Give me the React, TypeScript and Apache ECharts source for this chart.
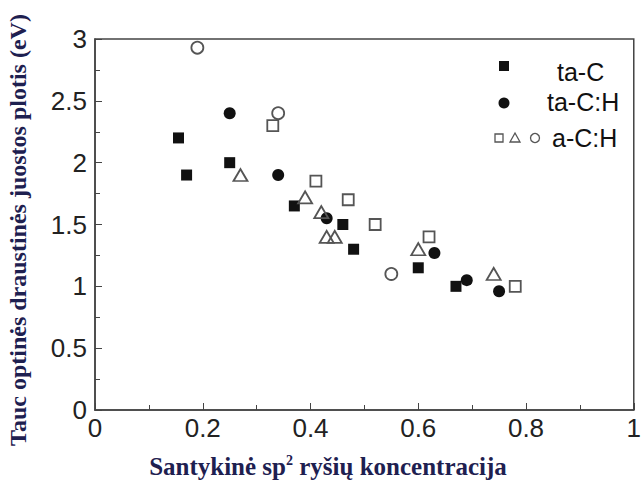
import React, { useEffect, useRef } from "react";
import * as echarts from "echarts";

// sp2 fraction vs. Tauc optical gap (eV)
const taC: [number, number][] = [
  [0.155, 2.2], [0.17, 1.9], [0.25, 2.0], [0.37, 1.65],
  [0.46, 1.5], [0.48, 1.3], [0.6, 1.15], [0.67, 1.0],
];
const taCH: [number, number][] = [
  [0.25, 2.4], [0.34, 1.9], [0.43, 1.55], [0.63, 1.27], [0.69, 1.05], [0.75, 0.96],
];
const aCHSquares: [number, number][] = [
  [0.33, 2.3], [0.41, 1.85], [0.47, 1.7], [0.52, 1.5], [0.62, 1.4], [0.78, 1.0],
];
const aCHTriangles: [number, number][] = [
  [0.27, 1.9], [0.39, 1.72], [0.42, 1.6], [0.43, 1.4], [0.445, 1.4], [0.6, 1.3], [0.74, 1.1],
];
const aCHCircles: [number, number][] = [
  [0.19, 2.93], [0.34, 2.4], [0.55, 1.1],
];

const legendLabels = ["ta-C", "ta-C:H", "a-C:H"];
const xTitle = ["Santykinė sp", "2", " ryšių koncentracija"];
const yTitle = "Tauc optinės draustinės juostos plotis (eV)";

const INK = "#111";
const OPEN = "#555";
const TITLE = "#1e2050";
const SANS = "Liberation Sans, Arial, sans-serif";
const SERIF = "Liberation Serif, Times New Roman, serif";

export default function App() {
  const ref = useRef<HTMLDivElement>(null);

  useEffect(() => {
    if (!ref.current) return;
    const chart = echarts.init(ref.current, undefined, { renderer: "svg" });

    const filled = (name: string, data: [number, number][], symbol: string, size: number) => ({
      name,
      type: "scatter",
      data,
      symbol,
      symbolSize: size,
      itemStyle: { color: INK, opacity: 1 },
    });
    const open = (name: string, data: [number, number][], symbol: string, size: number | number[]) => ({
      name,
      type: "scatter",
      data,
      symbol,
      symbolSize: size,
      itemStyle: { color: "rgba(255,255,255,0)", borderColor: OPEN, borderWidth: 1.8, opacity: 1 },
    });

    const axisLabel = { fontFamily: SANS, fontSize: 26, color: "#222" };
    const tickStyle = { color: "#444", width: 1 };

    chart.setOption({
      animation: false,
      grid: {
        left: 95, right: 6, top: 39, bottom: 77,
        show: true, borderColor: "#444", borderWidth: 1.5, backgroundColor: "#fff",
      },
      xAxis: {
        type: "value", min: 0, max: 1, interval: 0.2,
        axisLine: { show: true, lineStyle: { color: "#444", width: 1.5 } },
        axisTick: { show: true, inside: true, length: 7, lineStyle: tickStyle },
        minorTick: { show: true, splitNumber: 2, length: 5, lineStyle: tickStyle },
        splitLine: { show: false },
        axisLabel: { ...axisLabel, margin: 5 },
      },
      yAxis: {
        type: "value", min: 0, max: 3, interval: 0.5,
        axisLine: { show: true, lineStyle: { color: "#444", width: 1.5 } },
        axisTick: { show: true, inside: true, length: 7, lineStyle: tickStyle },
        minorTick: { show: true, splitNumber: 2, length: 5, lineStyle: tickStyle },
        splitLine: { show: false },
        axisLabel: { ...axisLabel, margin: 8 },
      },
      series: [
        filled(legendLabels[0], taC, "rect", 11),
        filled(legendLabels[1], taCH, "circle", 12),
        open(legendLabels[2], aCHSquares, "rect", 11),
        open(legendLabels[2], aCHTriangles, "triangle", [14, 12]),
        open(legendLabels[2], aCHCircles, "circle", 12),
      ],
      graphic: [
        // legend
        { type: "rect", shape: { x: 499, y: 61, width: 10, height: 10 }, style: { fill: INK } },
        { type: "text", x: 557, y: 72, style: { text: legendLabels[0], fontFamily: SANS, fontSize: 25, fill: "#111", verticalAlign: "middle" } },
        { type: "circle", shape: { cx: 504, cy: 103, r: 5.5 }, style: { fill: INK } },
        { type: "text", x: 547, y: 102, style: { text: legendLabels[1], fontFamily: SANS, fontSize: 25, fill: "#111", verticalAlign: "middle" } },
        { type: "rect", shape: { x: 495, y: 134, width: 8, height: 8 }, style: { fill: "none", stroke: OPEN, lineWidth: 1.3 } },
        { type: "polygon", shape: { points: [[515, 133], [520, 142], [510, 142]] }, style: { fill: "none", stroke: OPEN, lineWidth: 1.3 } },
        { type: "circle", shape: { cx: 535, cy: 138, r: 4.5 }, style: { fill: "none", stroke: OPEN, lineWidth: 1.3 } },
        { type: "text", x: 552, y: 138, style: { text: legendLabels[2], fontFamily: SANS, fontSize: 25, fill: "#111", verticalAlign: "middle" } },
        // axis titles
        {
          type: "text", x: 328, y: 466,
          style: {
            text: `{a|${xTitle[0]}}{s|${xTitle[1]}}{a|${xTitle[2]}}`,
            align: "center", verticalAlign: "middle",
            rich: {
              a: { fontFamily: SERIF, fontWeight: "bold", fontSize: 25, fill: TITLE, color: TITLE },
              s: { fontFamily: SERIF, fontWeight: "bold", fontSize: 14, fill: TITLE, color: TITLE, verticalAlign: "top", padding: [0, 0, 10, 0] },
            },
          },
        },
        {
          type: "text", x: 18, y: 230, rotation: Math.PI / 2,
          style: {
            text: yTitle, align: "center", verticalAlign: "middle",
            fontFamily: SERIF, fontWeight: "bold", fontSize: 24, fill: TITLE,
          },
        },
      ],
    });

    return () => chart.dispose();
  }, []);

  return <div ref={ref} style={{ width: 644, height: 487, position: "absolute", left: 0, top: 0 }} />;
}
